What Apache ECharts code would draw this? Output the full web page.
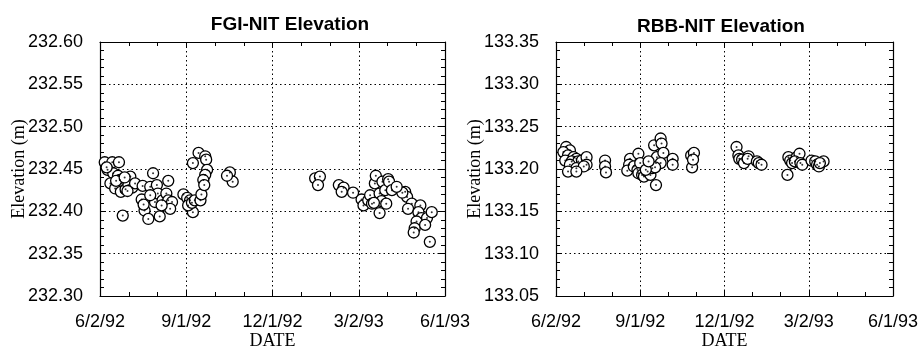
<!DOCTYPE html>
<html>
<head>
<meta charset="utf-8">
<script src="https://cdn.jsdelivr.net/npm/echarts@6/dist/echarts.min.js"></script>
<style>html,body{margin:0;padding:0;background:#fff;}#c{width:919px;height:349px;}</style>
</head>
<body>
<div id="c"></div>
<script>
// Days counted from 6/2/92
const xTickLabels = ['6/2/92', '9/1/92', '12/1/92', '3/2/93', '6/1/93'];
const xTickDays = [0, 91, 182, 273, 364];

const fgiDays = [5,13,20,8,14,19,21,32,23,11,16,22,34,27,24,30,37,7,17,26,29,
  56,45,53,60,72,44,47,46,51,58,61,63,66,70,72,76,74,53,65,
  88,92,95,98,93,97,100,106,107,98,104,111,112,113,111,109,110,
  137,140,134,
  227,232,230,252,257,255,267,276,278,283,285,287,290,291,295,297,298,301,302,304,305,308,295,289,
  322,324,329,338,325,336,339,345,350,334,332,331,343,348,319,313];
const fgiElev = [232.458,232.458,232.458,232.449,232.445,232.442,232.437,232.441,232.433,232.433,232.427,232.423,232.428,232.426,232.395,232.431,232.433,232.452,232.436,232.440,232.424,
  232.445,232.430,232.429,232.431,232.436,232.414,232.401,232.408,232.391,232.411,232.421,232.394,232.413,232.421,232.413,232.411,232.403,232.419,232.407,
  232.420,232.416,232.413,232.399,232.407,232.410,232.413,232.413,232.420,232.457,232.469,232.465,232.461,232.449,232.443,232.437,232.431,
  232.446,232.435,232.442,
  232.439,232.441,232.431,232.431,232.428,232.423,232.422,232.414,232.407,232.413,232.419,232.409,232.433,232.442,232.421,232.412,232.435,232.425,232.409,232.438,232.435,232.425,232.398,232.410,
  232.423,232.417,232.409,232.407,232.403,232.399,232.392,232.392,232.399,232.388,232.380,232.375,232.384,232.364,232.422,232.429];

const rbbDays = [11,15,8,13,19,22,10,17,24,28,33,33,15,22,30,13,22,
  53,53,54,
  80,89,79,77,84,88,91,89,93,95,99,102,104,108,109,106,113,114,116,113,107,108,126,126,146,149,147,148,97,100,
  195,197,198,201,203,208,207,217,219,222,
  250,251,253,255,260,263,258,264,266,276,280,282,284,289,285];
const rbbElev = [133.226,133.222,133.220,133.216,133.214,133.212,133.210,133.209,133.209,133.210,133.214,133.205,133.205,133.201,133.203,133.197,133.197,
  133.210,133.203,133.196,
  133.212,133.218,133.205,133.198,133.203,133.199,133.207,133.195,133.193,133.191,133.197,133.193,133.201,133.207,133.214,133.228,133.236,133.230,133.219,133.207,133.202,133.181,133.212,133.205,133.216,133.219,133.202,133.211,133.199,133.209,
  133.226,133.216,133.212,133.211,133.207,133.215,133.212,133.209,133.207,133.205,
  133.193,133.214,133.210,133.207,133.214,133.218,133.209,133.207,133.205,133.210,133.209,133.205,133.203,133.209,133.207];

const fgiY = {min: 232.30, max: 232.60, interval: 0.05};
const rbbY = {min: 133.05, max: 133.35, interval: 0.05};
const titles = ['FGI-NIT Elevation', 'RBB-NIT Elevation'];

const sans = "'Liberation Sans', Arial, sans-serif";
const serif = "'Liberation Serif', 'Times New Roman', serif";

function zip(a, b) { return a.map((v, i) => [v, b[i]]); }
function xLabel(v) { const i = xTickDays.indexOf(Math.round(v)); return i >= 0 ? xTickLabels[i] : ''; }

const grids = [
  {left: 100, top: 42, width: 345, height: 254, outerBoundsMode: 'none', containLabel: false},
  {left: 556, top: 42, width: 337, height: 254, outerBoundsMode: 'none', containLabel: false}
];

const xAxes = [], yAxes = [];
[0, 1].forEach(g => {
  const yr = g === 0 ? fgiY : rbbY;
  const baseX = {
    gridIndex: g, type: 'value', min: 0, max: 364, interval: 91,
    axisLine: {show: true, onZero: false, lineStyle: {color: '#000', width: 1.2}},
    axisTick: {show: true, inside: true, length: 6, lineStyle: {color: '#000'}},
    minorTick: {show: true, splitNumber: 3, length: 4, lineStyle: {color: '#000'}}
  };
  xAxes.push(Object.assign({}, baseX, {
    position: 'bottom',
    name: 'DATE', nameLocation: 'middle', nameGap: 36, nameMoveOverlap: false,
    nameTextStyle: {fontFamily: serif, fontSize: 18, color: '#000'},
    axisLabel: {formatter: xLabel, fontFamily: sans, fontSize: 18, color: '#000', margin: 17},
    splitLine: {show: true, lineStyle: {color: '#000', type: [1.5, 3], width: 1}}
  }));
  xAxes.push(Object.assign({}, baseX, {
    position: 'top', axisLabel: {show: false}, splitLine: {show: false}
  }));
  const baseY = {
    gridIndex: g, type: 'value', min: yr.min, max: yr.max, interval: yr.interval,
    axisLine: {show: true, onZero: false, lineStyle: {color: '#000', width: 1.2}},
    axisTick: {show: true, inside: true, length: 6, lineStyle: {color: '#000'}},
    minorTick: {show: true, splitNumber: 5, length: 4, lineStyle: {color: '#000'}}
  };
  yAxes.push(Object.assign({}, baseY, {
    position: 'left',
    name: 'Elevation (m)', nameLocation: 'middle', nameGap: 72, nameRotate: 90, nameMoveOverlap: false,
    nameTextStyle: {fontFamily: serif, fontSize: 18, color: '#000'},
    axisLabel: {formatter: v => v.toFixed(2), fontFamily: sans, fontSize: 18, color: '#000', margin: 17},
    splitLine: {show: true, lineStyle: {color: '#000', type: [1.5, 3], width: 1}}
  }));
  yAxes.push(Object.assign({}, baseY, {
    position: 'right', axisLabel: {show: false}, splitLine: {show: false}
  }));
});

function circles(g, data) {
  return {
    type: 'scatter', xAxisIndex: g * 2, yAxisIndex: g * 2, data: data,
    symbol: 'circle', symbolSize: 11,
    itemStyle: {color: '#fff', borderColor: '#000', borderWidth: 1.3, opacity: 1},
    silent: true
  };
}
function dots(g, data) {
  return {
    type: 'scatter', xAxisIndex: g * 2, yAxisIndex: g * 2, data: data,
    symbol: 'circle', symbolSize: 2, itemStyle: {color: '#000'}, silent: true, z: 3
  };
}
const fgiData = zip(fgiDays, fgiElev);
const rbbData = zip(rbbDays, rbbElev);

const chart = echarts.init(document.getElementById('c'), null, {renderer: 'canvas'});
chart.setOption({
  animation: false,
  backgroundColor: '#fff',
  title: [
    {text: titles[0], left: 285, top: 10, textAlign: 'center',
     textStyle: {fontFamily: sans, fontSize: 19, fontWeight: 'bold', color: '#000'}},
    {text: titles[1], left: 716, top: 12, textAlign: 'center',
     textStyle: {fontFamily: sans, fontSize: 19, fontWeight: 'bold', color: '#000'}}
  ],
  grid: grids,
  xAxis: xAxes,
  yAxis: yAxes,
  series: [circles(0, fgiData), dots(0, fgiData), circles(1, rbbData), dots(1, rbbData)]
});
</script>
</body>
</html>
